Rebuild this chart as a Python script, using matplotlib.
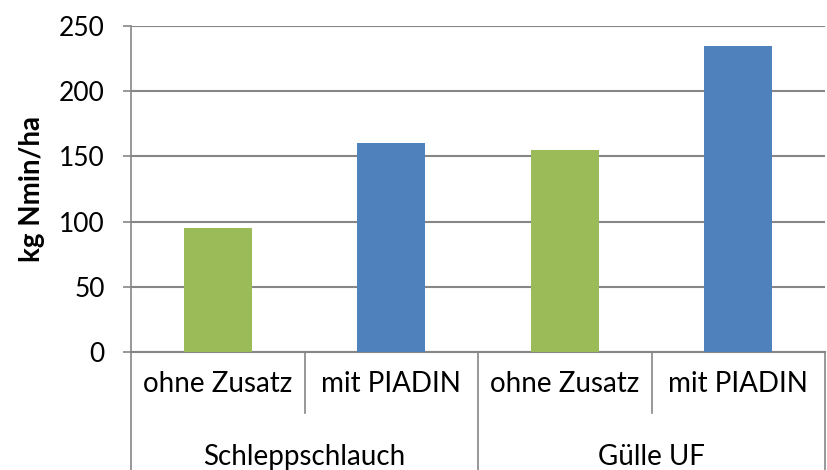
import matplotlib.pyplot as plt
import matplotlib.transforms as mtransforms

# Data
categories = ["ohne Zusatz", "mit PIADIN", "ohne Zusatz", "mit PIADIN"]
groups = ["Schleppschlauch", "Gülle UF"]
values = [95, 160, 155, 235]
colors = ["#9BBB59", "#4F81BD", "#9BBB59", "#4F81BD"]
y_ticks = [0, 50, 100, 150, 200, 250]

plt.rcParams['font.family'] = ['Lato', 'DejaVu Sans']
GRID = "#868686"

fig = plt.figure(figsize=(8.27, 4.70), dpi=100)
ax = fig.add_axes([131 / 827, 118 / 470, 694 / 827, 326 / 470])

x = list(range(len(values)))
ax.bar(x, values, width=0.39, color=colors, zorder=3)

ax.set_xlim(-0.5, len(values) - 0.5)
ax.set_ylim(0, 250)
ax.set_yticks(y_ticks)
ax.yaxis.grid(True, color=GRID, linewidth=1.5, zorder=0)
ax.tick_params(axis='y', labelsize=19, length=6, width=1.2, color=GRID, pad=13)
ax.set_xticks([])

for side in ["top", "right"]:
    ax.spines[side].set_visible(False)
ax.spines["left"].set_color(GRID)
ax.spines["left"].set_linewidth(1.2)
ax.spines["bottom"].set_color(GRID)
ax.spines["bottom"].set_linewidth(1.5)

ax.set_ylabel("kg Nmin/ha", fontsize=20, fontweight="bold", labelpad=10)

# multi-level category axis
trans = mtransforms.blended_transform_factory(ax.transData, ax.transAxes)
for i, cat in enumerate(categories):
    ax.text(i, -0.098, cat, transform=trans, ha="center", va="center", fontsize=20)
n_per_group = len(categories) // len(groups)
for g, name in enumerate(groups):
    xc = g * n_per_group + (n_per_group - 1) / 2
    ax.text(xc, -0.322, name, transform=trans, ha="center", va="center", fontsize=20)

# divider lines
for i in range(len(categories) + 1):
    xb = i - 0.5
    bottom = -0.37 if i % n_per_group == 0 else -0.187
    ax.plot([xb, xb], [0, bottom], transform=trans, color=GRID, linewidth=1.2,
            clip_on=False)

fig.savefig("out.png", dpi=100)
